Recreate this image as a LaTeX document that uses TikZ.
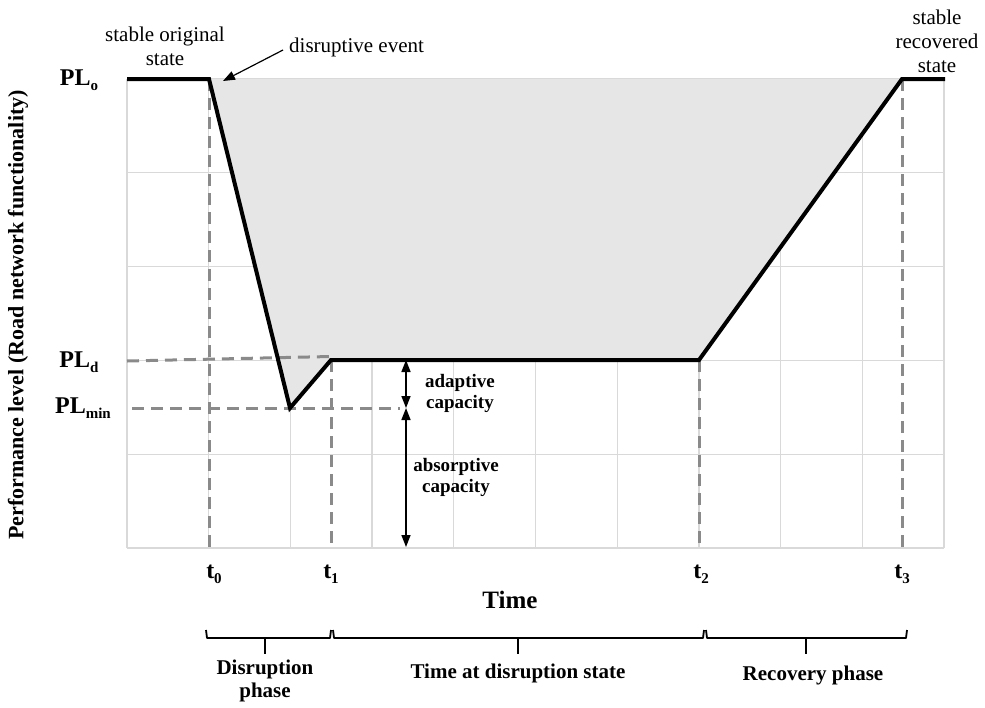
\documentclass[tikz,border=0pt]{standalone}
\usepackage{fontspec}
\setmainfont{Liberation Serif}
\usetikzlibrary{arrows.meta}
\definecolor{gridgray}{HTML}{D9D9D9}
\definecolor{dashgray}{HTML}{8A8A8A}
\definecolor{areagray}{HTML}{E6E6E6}
\newcommand\mysub[1]{\raisebox{-0.45ex}{\fontsize{15}{15}\selectfont\bfseries #1}}
\newcommand\tsub[1]{\raisebox{-0.45ex}{\fontsize{15}{15}\selectfont\bfseries #1}}
\begin{document}
\begin{tikzpicture}[x=1pt,y=-1pt,
  gridline/.style={draw=gridgray, line width=1.3pt},
  guide/.style={draw=dashgray, line width=3pt, dash pattern=on 12pt off 7pt},
  curve/.style={line width=4pt, line join=miter, miter limit=4},
  bracket/.style={line width=1.8pt, line join=round},
  lbl/.style={font=\fontsize{21}{24}\selectfont, align=center, inner sep=0pt},
  blbl/.style={font=\fontsize{21}{23}\selectfont\bfseries, align=center, inner sep=0pt},
  caplbl/.style={font=\fontsize{19}{21}\selectfont\bfseries, align=center, inner sep=0pt},
  pl/.style={font=\fontsize{24}{26}\selectfont\bfseries, inner sep=0pt},
  tl/.style={font=\fontsize{24}{26}\selectfont\bfseries, inner sep=0pt},
  tip/.style={line width=1.5pt, {Triangle[width=9pt,length=12pt]}-{Triangle[width=9pt,length=12pt]}}
]
\useasboundingbox (0,0) rectangle (985,707);
% grid
\foreach \k in {0,...,10} {
  \draw[gridline] ({127+81.7*\k},79) -- ({127+81.7*\k},548);
}
\foreach \y in {79,172.8,266.6,360.4,454.2,548} {
  \draw[gridline] (127,\y) -- (944,\y);
}
% shaded loss area
\fill[areagray] (209,79) -- (290,408) -- (331,360) -- (699,360) -- (902,79) -- cycle;
% dashed guides
\draw[guide] (209,79) -- (209,548);
\draw[guide] (331,360) -- (331,548);
\draw[guide] (699,360) -- (699,548);
\draw[guide] (902,79) -- (902,548);
\draw[guide] (127,361) -- (331,356.5);
\draw[guide] (132,408) -- (400,408);
% performance curve
\draw[curve] (127,79) -- (209,79) -- (290,408) -- (331,360) -- (699,360) -- (902,79) -- (945,79);
% capacity arrows
\coordinate (ctop) at (406,360);
\coordinate (cmid) at (406,408);
\coordinate (cbot) at (406,547);
\draw[tip] (ctop) -- (cmid);
\draw[tip] (cmid) -- (cbot);
\node[caplbl] (adap) at (460,393) {adaptive\\capacity};
\node[caplbl] (absorb) at (456,477) {absorptive\\capacity};
% y labels
\node[pl] (plo) at (79,80) {PL\mysub{o}};
\node[pl] (pld) at (79,362) {PL\mysub{d}};
\node[pl] (plmin) at (83,408) {PL\mysub{min}};
\node[font=\fontsize{22}{24}\selectfont\bfseries, rotate=90, inner sep=0pt] (ylab) at (18,315) {Performance level (Road network functionality)};
% t labels
\node[tl] (t0) at (214,574) {t\tsub{0}};
\node[tl] (t1) at (331,574) {t\tsub{1}};
\node[tl] (t2) at (701,574) {t\tsub{2}};
\node[tl] (t3) at (902,574) {t\tsub{3}};
\node[font=\fontsize{25}{27}\selectfont\bfseries, inner sep=0pt] (time) at (510,600) {Time};
% top annotations
\node[lbl] (orig) at (165,46) {stable original\\state};
\node[lbl] (recov) at (937,41) {stable\\recovered\\state};
\node[lbl, anchor=west] (event) at (289,47) {disruptive event};
\coordinate (evtip) at (223,81);
\draw[line width=1.2pt, -{Triangle[width=9pt,length=12pt]}] (event.west) ++(-6,3) -- (evtip);
% phase brackets
\draw[bracket] (206,630) -- (207,638) -- (330,638) -- (331,630);
\draw[bracket] (265,638) -- (265,654);
\draw[bracket] (333,630) -- (334,638) -- (703,638) -- (704,630);
\draw[bracket] (518,638) -- (518,654);
\draw[bracket] (706,630) -- (707,638) -- (906,638) -- (907,630);
\draw[bracket] (806,638) -- (806,654);
\node[blbl] (ph1) at (265,681) {Disruption\\phase};
\node[blbl] (ph2) at (518,673) {Time at disruption state};
\node[blbl] (ph3) at (813,675) {Recovery phase};
\end{tikzpicture}
\end{document}
